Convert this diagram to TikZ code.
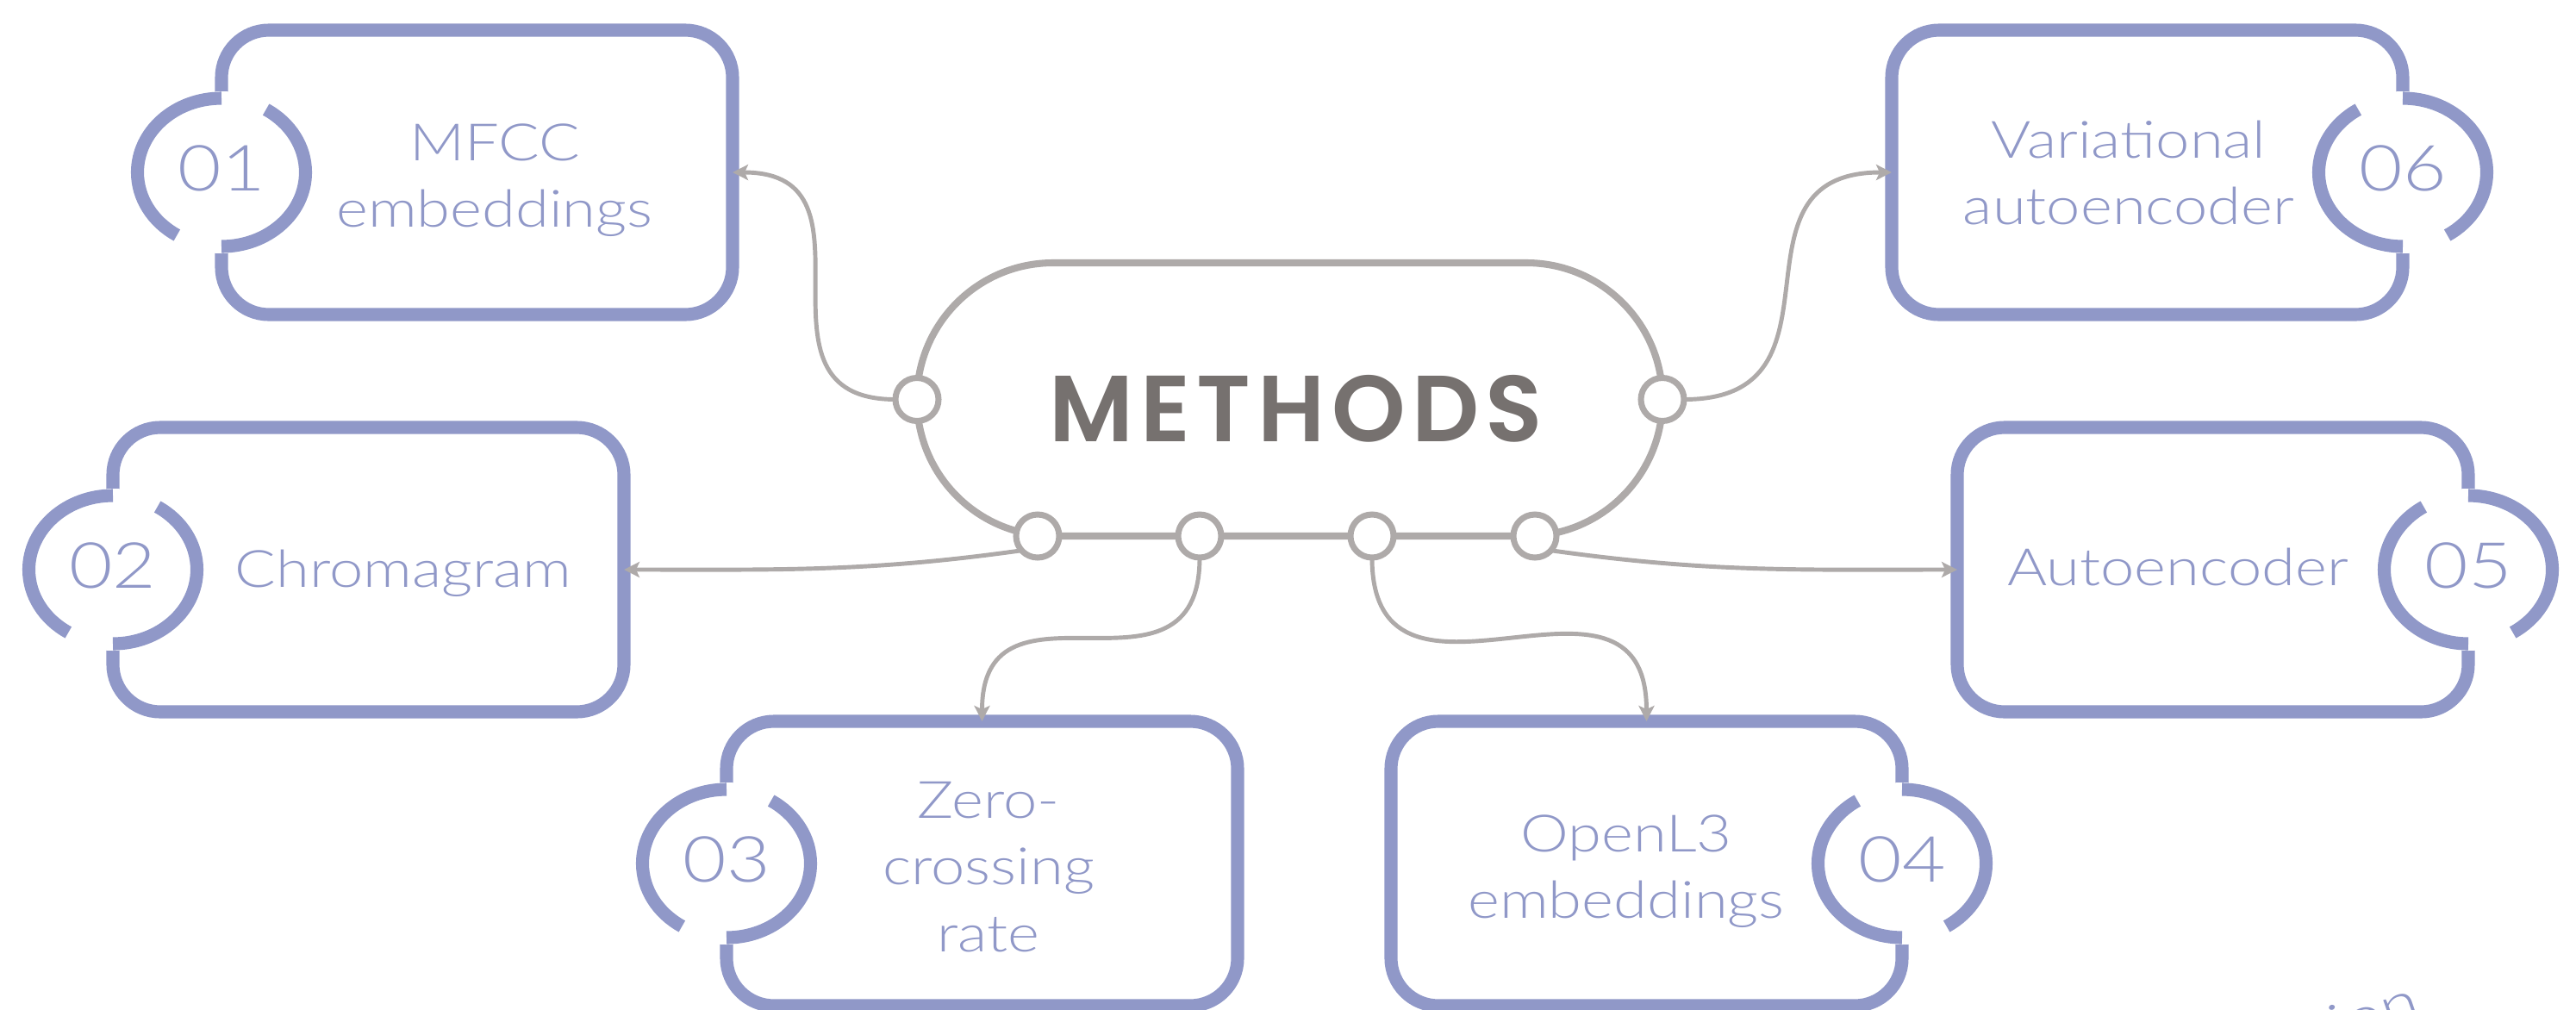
\documentclass[tikz,border=0pt]{standalone}
\usepackage{fontspec}
\setmainfont{Lato Light}[FakeStretch=1.18]
\newfontfamily\hubfont{Poppins SemiBold}[LetterSpace=7]
\usepackage{tikz}
\usetikzlibrary{arrows.meta}
\usetikzlibrary{positioning}

\definecolor{boxblue}{RGB}{144,152,200}
\definecolor{linegray}{RGB}{174,170,169}
\definecolor{hubgray}{RGB}{118,113,111}

\begin{document}
\begin{tikzpicture}[
    box/.style={draw=boxblue, line width=4.3pt, rounded corners=0.55cm,
      minimum width=5.93cm, minimum height=3.3cm, outer sep=0pt},
    tab/.style={draw=boxblue, line width=4.3pt},
    num/.style={text=boxblue, inner sep=0pt, font=\fontsize{21}{25}\selectfont},
    lbl/.style={text=boxblue, align=center, inner sep=0pt, font=\fontsize{17}{22}\selectfont},
    port/.style={circle, draw=linegray, fill=white, line width=2pt,
      minimum size=0.5cm, inner sep=0pt, outer sep=0pt},
    link/.style={draw=linegray, line width=1.4pt,
      -{Stealth[length=0.18cm, width=0.18cm, inset=0.04cm]}},
  ]
  \useasboundingbox (0,0) rectangle (29.89,-11.71);

  % ===== Boxes =====
  \node[box] (b1) at (5.535,-2.00) {};
  \node[box] (b2) at (4.275,-6.61) {};
  \node[box] (b3) at (11.395,-10.02) {};
  \node[box] (b4) at (19.105,-10.02) {};
  \node[box] (b5) at (25.675,-6.61) {};
  \node[box] (b6) at (24.915,-2.00) {};

  % number tabs, left side
  \foreach \b/\n in {b1/01, b2/02, b3/03} {
    \fill[white] (\b.west) ellipse[x radius=1.055cm, y radius=0.94cm];
    \draw[tab] (\b.west) ++(90:0.975 and 0.86)
      arc[start angle=90, end angle=238, x radius=0.975cm, y radius=0.86cm];
    \draw[tab] (\b.west) ++(-90:0.975 and 0.86)
      arc[start angle=-90, end angle=58, x radius=0.975cm, y radius=0.86cm];
    \node[num] (n\n) at ([yshift=0.045cm]\b.west) {\n};
  }
  % number tabs, right side
  \foreach \b/\n in {b4/04, b5/05, b6/06} {
    \fill[white] (\b.east) ellipse[x radius=1.055cm, y radius=0.94cm];
    \draw[tab] (\b.east) ++(90:0.975 and 0.86)
      arc[start angle=90, end angle=-58, x radius=0.975cm, y radius=0.86cm];
    \draw[tab] (\b.east) ++(270:0.975 and 0.86)
      arc[start angle=270, end angle=122, x radius=0.975cm, y radius=0.86cm];
    \node[num] (n\n) at ([yshift=0.045cm]\b.east) {\n};
  }

  % labels
  \node[lbl] (t1) at (5.74,-2.09) {MFCC\\embeddings};
  \node[lbl] (t2) at (4.68,-6.65) {Chromagram};
  \node[lbl] (t3) at (11.47,-10.06) {Zero-\\crossing\\rate};
  \node[lbl] (t4) at (18.87,-10.11) {OpenL3\\embeddings};
  \node[lbl] (t5) at (25.27,-6.58) {Autoencoder};
  \node[lbl] (t6) at (24.70,-2.005) {Variational\\autoencoder};

  % ===== Methods hub =====
  \node[draw=linegray, line width=2.3pt, rounded corners=1.58cm,
    minimum width=8.65cm, minimum height=3.17cm, outer sep=0pt] (hub) at (14.965,-4.635) {};
  \node[text=hubgray, inner sep=0pt, font=\hubfont\fontsize{31}{31}\selectfont] (title) at (15.04,-4.74) {METHODS};

  % ports
  \node[port] (pl) at (hub.west) {};
  \node[port] (pr) at (hub.east) {};
  \node[port] (p1) at (12.04,-6.22) {};
  \node[port] (p2) at (13.92,-6.22) {};
  \node[port] (p3) at (15.92,-6.22) {};
  \node[port] (p4) at (17.81,-6.22) {};

  % connectors
  \draw[link] (pl.west) to[out=180,in=0,looseness=1.45] (b1.east);
  \draw[link] (pr.east) to[out=0,in=180,looseness=1.45] (b6.west);
  \draw[link] (p1.222) to[out=188,in=0] (b2.east);
  \draw[link] (p4.-42) to[out=-8,in=180] (b5.west);
  \draw[link] (p2.south) to[out=-90,in=90,looseness=1.5] (b3.north);
  \draw[link] (p3.south) to[out=-90,in=90,looseness=1.5] (b4.north);

  % cut-off text at the lower edge
  \node[text=boxblue, rotate=19, anchor=base west, inner sep=0pt,
    font=\fontsize{19}{19}\selectfont] (edge) at (27.12,-12.15) {ion};
\end{tikzpicture}
\end{document}
